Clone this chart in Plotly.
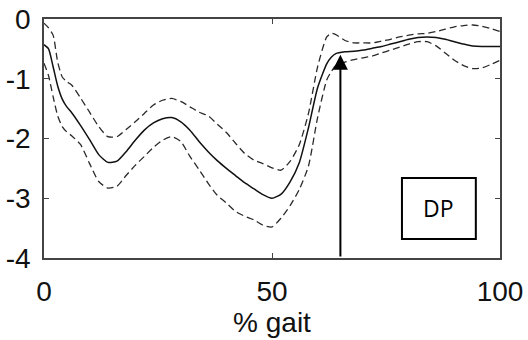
import plotly.graph_objects as go

gait_pct = [0, 1, 2, 3, 4, 5, 6, 8, 10, 12, 14, 16, 18, 20, 22, 24, 26, 28, 30, 32, 34, 36, 38, 40,
            42, 44, 46, 48, 50, 52, 54, 56, 58, 60, 62, 63, 64, 66, 68, 70, 72, 74, 76, 78, 80, 82,
            84, 86, 88, 90, 92, 94, 96, 98, 100]

mean_curve = [-0.43, -0.50, -0.80, -1.12, -1.34, -1.47, -1.56, -1.78, -2.02, -2.27, -2.40, -2.38,
              -2.22, -2.03, -1.86, -1.74, -1.67, -1.65, -1.72, -1.86, -2.05, -2.22, -2.37, -2.50,
              -2.62, -2.74, -2.84, -2.94, -3.00, -2.93, -2.72, -2.40, -1.82, -1.15, -0.75, -0.64,
              -0.58, -0.55, -0.54, -0.52, -0.49, -0.46, -0.42, -0.38, -0.34, -0.31, -0.30, -0.31,
              -0.34, -0.38, -0.42, -0.45, -0.46, -0.46, -0.46]

upper_sd = [-0.07, -0.15, -0.27, -0.72, -0.97, -1.05, -1.10, -1.32, -1.56, -1.80, -1.97, -1.97,
            -1.85, -1.72, -1.58, -1.44, -1.36, -1.33, -1.38, -1.47, -1.56, -1.62, -1.76, -1.90,
            -2.08, -2.25, -2.36, -2.42, -2.49, -2.53, -2.38, -2.10, -1.58, -0.80, -0.30, -0.24,
            -0.26, -0.36, -0.40, -0.40, -0.40, -0.37, -0.34, -0.30, -0.27, -0.25, -0.24, -0.21,
            -0.17, -0.13, -0.11, -0.10, -0.12, -0.16, -0.21]

lower_sd = [-0.74, -0.95, -1.30, -1.62, -1.80, -1.89, -1.95, -2.10, -2.42, -2.72, -2.83, -2.80,
            -2.62, -2.45, -2.30, -2.15, -2.03, -1.97, -2.05, -2.30, -2.52, -2.75, -2.95, -3.08,
            -3.22, -3.30, -3.36, -3.45, -3.48, -3.33, -3.12, -2.85, -2.46, -1.65, -1.02, -0.88,
            -0.78, -0.72, -0.68, -0.65, -0.62, -0.57, -0.52, -0.47, -0.42, -0.38, -0.38, -0.45,
            -0.57, -0.69, -0.78, -0.83, -0.82, -0.76, -0.69]

x_ticks = [0, 50, 100]
y_ticks = [0, -1, -2, -3, -4]
x_title = "% gait"
box_label = "DP"
arrow_x = 65
arrow_tip_y = -0.6
box_x = [78.5, 94.7]
box_y = [-2.66, -3.68]

fig = go.Figure()
for ys in (upper_sd, lower_sd):
    fig.add_trace(go.Scatter(x=gait_pct, y=ys, mode="lines",
                             line=dict(color="#2a2a2a", width=1.3, dash="7px,4px", shape="spline", smoothing=0.6),
                             showlegend=False, hoverinfo="skip"))
fig.add_trace(go.Scatter(x=gait_pct, y=mean_curve, mode="lines",
                         line=dict(color="#111111", width=1.5, shape="spline", smoothing=0.6),
                         showlegend=False, hoverinfo="skip"))

fig.add_annotation(x=arrow_x, y=arrow_tip_y, ax=arrow_x, ay=-4, xref="x", yref="y",
                   axref="x", ayref="y", text="", showarrow=True, arrowhead=2,
                   arrowsize=1.5, arrowwidth=2, arrowcolor="black", standoff=0)

fig.add_shape(type="rect", xref="x", yref="y", x0=box_x[0], x1=box_x[1], y0=box_y[0], y1=box_y[1],
              line=dict(color="black", width=2), fillcolor="white")
fig.add_annotation(x=(box_x[0] + box_x[1]) / 2, y=(box_y[0] + box_y[1]) / 2, xref="x", yref="y",
                   text=box_label, showarrow=False,
                   font=dict(family="Open Sans", size=23, color="black"))

axis_common = dict(showline=True, linecolor="#444444", linewidth=1.5, mirror="ticks",
                   ticks="inside", ticklen=5, tickcolor="#444444", tickwidth=1,
                   showgrid=False, zeroline=False, automargin=False,
                   tickfont=dict(family="Liberation Sans", size=28, color="#111111"))

fig.update_xaxes(range=[0, 100], tickvals=x_ticks, ticktext=[str(v) for v in x_ticks],
                 title=dict(text=x_title, font=dict(family="Liberation Sans", size=28, color="#111111"),
                            standoff=2),
                 ticklabelstandoff=8, **axis_common)
fig.update_yaxes(range=[-4, 0], tickvals=y_ticks, ticktext=[str(v) for v in y_ticks],
                 ticklabelstandoff=6, **axis_common)

fig.update_layout(width=528, height=340, margin=dict(l=44, r=28, t=19, b=82),
                  paper_bgcolor="white", plot_bgcolor="white")

fig.write_html("out.html", config={"displayModeBar": False},
               post_script="document.body.style.margin='0';")
